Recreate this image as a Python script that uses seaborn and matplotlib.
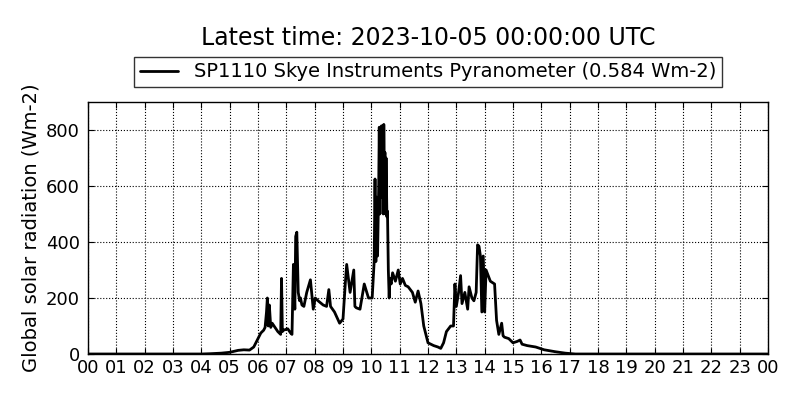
import numpy as np
import pandas as pd
import matplotlib
matplotlib.use("Agg")
import matplotlib.pyplot as plt
import seaborn as sns

sns.set_style("ticks")
plt.rcParams['font.family'] = ['DejaVu Sans']
plt.rcParams['text.color'] = 'black'
plt.rcParams['axes.labelcolor'] = 'black'
plt.rcParams['xtick.color'] = 'black'
plt.rcParams['ytick.color'] = 'black'

# hours since midnight and radiation
hours = [0.0, 2.0, 4.0, 4.3, 4.7, 5.0, 5.3, 5.5, 5.7, 5.85, 6.0, 6.1, 6.2, 6.25, 6.3,
         6.33, 6.36, 6.4, 6.45, 6.5, 6.6, 6.7, 6.8, 6.83, 6.86, 6.9, 7.05, 7.15, 7.2,
         7.25, 7.3, 7.33, 7.37, 7.42, 7.47, 7.5, 7.55, 7.62, 7.72, 7.85, 7.95, 8.02,
         8.12, 8.3, 8.42, 8.5, 8.56, 8.7, 8.88, 9.0, 9.08, 9.13, 9.25, 9.38, 9.42,
         9.47, 9.6, 9.75, 9.9, 10.03, 10.1, 10.13, 10.16, 10.19, 10.22, 10.26, 10.28,
         10.3, 10.32, 10.34, 10.36, 10.38, 10.4, 10.42, 10.44, 10.46, 10.48, 10.5,
         10.52, 10.55, 10.57, 10.6, 10.63, 10.65, 10.7, 10.75, 10.85, 10.95,
         11.02, 11.1, 11.2, 11.3, 11.45, 11.55, 11.65, 11.75, 11.85, 12.0, 12.2,
         12.35, 12.45, 12.55, 12.65, 12.8, 12.9, 12.95, 13.0, 13.08, 13.15, 13.2,
         13.3, 13.4, 13.45, 13.55, 13.62, 13.7, 13.75, 13.8, 13.85, 13.9, 13.95,
         14.0, 14.05, 14.2, 14.35, 14.42, 14.5, 14.6, 14.65, 14.7, 14.85, 15.0,
         15.15, 15.25, 15.32, 15.5, 15.8, 16.1, 16.5, 16.85, 17.2, 20.0, 24.0]
radiation = [0, 0, 0, 1, 3, 6, 13, 15, 14, 25, 55, 75, 85, 95, 150,
             200, 100, 175, 95, 110, 95, 80, 70, 270, 80, 85, 90, 75, 70,
             320, 160, 420, 435, 220, 190, 200, 175, 170, 220, 265, 160, 200,
             190, 175, 170, 230, 170, 150, 110, 125, 250, 320, 220, 300, 170,
             165, 160, 250, 200, 200, 330, 625, 330, 560, 350, 600, 810,
             500, 800, 560, 815, 600, 780, 500, 820, 650, 720, 500,
             700, 490, 510, 300, 200, 270, 250, 290, 260, 300,
             250, 270, 245, 240, 220, 185, 225, 180, 100, 40, 30,
             25, 20, 40, 80, 100, 100, 250, 170, 220, 280, 180,
             220, 160, 240, 200, 190, 220, 390, 385, 350, 150, 350,
             150, 300, 260, 250, 120, 70, 110, 65, 60, 55, 40,
             45, 50, 35, 30, 25, 15, 8, 3, 0, 0, 0]

tick_hours = list(range(0, 25))
tick_labels = ["%02d" % (h % 24) for h in tick_hours]

df = pd.DataFrame({"hour": hours, "radiation": radiation})

fig = plt.figure(figsize=(8, 4), dpi=100)
ax = fig.add_axes([0.11, 0.115, 0.85, 0.63])
sns.lineplot(data=df, x="hour", y="radiation", color="black", linewidth=2,
             label="SP1110 Skye Instruments Pyranometer (0.584 Wm-2)", ax=ax)

ax.set_xlim(0, 24)
ax.set_ylim(0, 900)
ax.set_xticks(tick_hours)
ax.set_xticklabels(tick_labels)
ax.set_yticks([0, 200, 400, 600, 800])
ax.tick_params(direction="in", labelsize=13, top=True, right=True, length=4)
ax.tick_params(axis="y", pad=6)
ax.grid(True, color="black", linestyle=":", linewidth=0.8)
ax.set_xlabel("")
ax.set_ylabel("Global solar radiation (Wm-2)", fontsize=14)
for s in ax.spines.values():
    s.set_color("black")
    s.set_linewidth(1)

leg = ax.legend(loc="lower center", bbox_to_anchor=(0.5, 1.02), fontsize=14,
                frameon=True, fancybox=False, borderpad=0.3, handlelength=2.0)
leg.get_frame().set_edgecolor("black")
leg.get_frame().set_linewidth(1)
fig.suptitle("Latest time: 2023-10-05 00:00:00 UTC", fontsize=17, x=0.535, y=0.935)

fig.savefig("out.png", dpi=100)
